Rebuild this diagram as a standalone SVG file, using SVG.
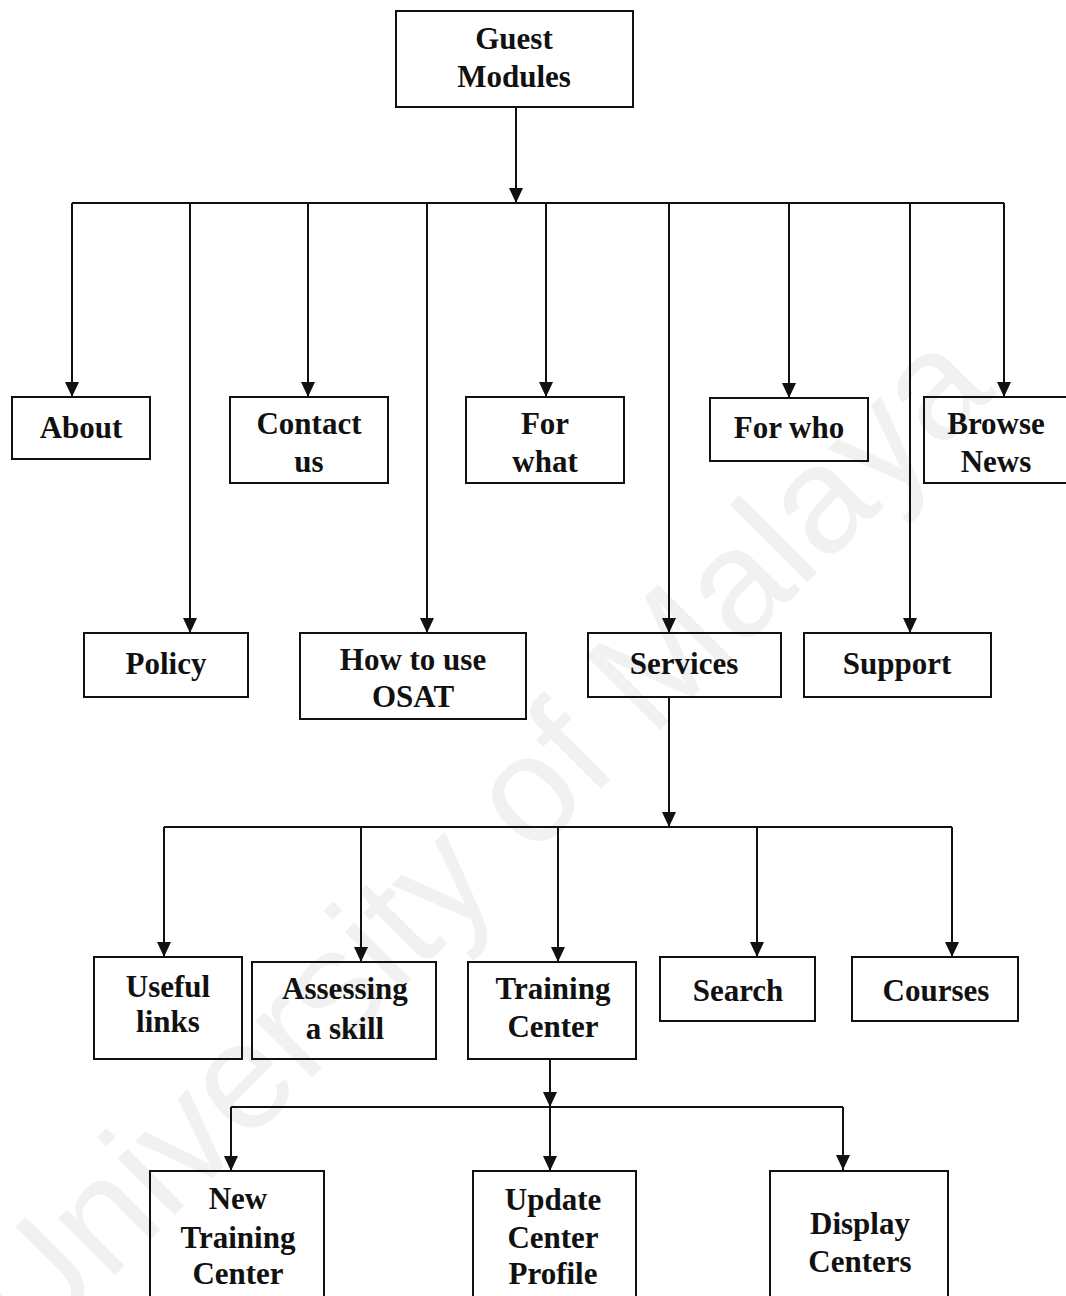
<svg xmlns="http://www.w3.org/2000/svg" width="1066" height="1296" viewBox="0 0 1066 1296">
  <style>
    .box { fill: none; stroke: #111; stroke-width: 2; }
    .lbl { font-family: "Liberation Serif", "Times New Roman", serif; font-size: 31px; font-weight: bold; fill: #111; text-anchor: middle; }
    .wire { fill: none; stroke: #111; stroke-width: 2; }
    .arrow { fill: none; stroke: #111; stroke-width: 2; marker-end: url(#head); }
    .mark { font-family: "Liberation Sans", Arial, sans-serif; font-size: 152px; fill: #f1f1f1; }
  </style>
  <defs>
    <marker id="head" viewBox="0 -8 15 16" refX="15" refY="0" markerWidth="15" markerHeight="16" markerUnits="userSpaceOnUse" orient="auto">
      <path d="M0,-7 L15,0 L0,7 z" fill="#111"/>
    </marker>
  </defs>

  <rect width="1066" height="1296" fill="#fff"/>
  <!-- faint background lettering, drawn beneath the chart -->
  <text class="mark" transform="translate(30,1360) rotate(-45)">University of Malaya</text>

  <g id="connectors">
    <line class="arrow" x1="516" y1="107" x2="516" y2="203"/>
    <line class="wire" x1="72" y1="203" x2="1004" y2="203"/>
    <line class="arrow" x1="72" y1="203" x2="72" y2="397"/>
    <line class="arrow" x1="190" y1="203" x2="190" y2="633"/>
    <line class="arrow" x1="308" y1="203" x2="308" y2="397"/>
    <line class="arrow" x1="427" y1="203" x2="427" y2="633"/>
    <line class="arrow" x1="546" y1="203" x2="546" y2="397"/>
    <line class="arrow" x1="669" y1="203" x2="669" y2="633"/>
    <line class="arrow" x1="789" y1="203" x2="789" y2="398"/>
    <line class="arrow" x1="910" y1="203" x2="910" y2="633"/>
    <line class="arrow" x1="1004" y1="203" x2="1004" y2="397"/>

    <line class="arrow" x1="669" y1="697" x2="669" y2="827"/>
    <line class="wire" x1="164" y1="827" x2="952" y2="827"/>
    <line class="arrow" x1="164" y1="827" x2="164" y2="957"/>
    <line class="arrow" x1="361" y1="827" x2="361" y2="962"/>
    <line class="arrow" x1="558" y1="827" x2="558" y2="962"/>
    <line class="arrow" x1="757" y1="827" x2="757" y2="957"/>
    <line class="arrow" x1="952" y1="827" x2="952" y2="957"/>

    <line class="arrow" x1="550" y1="1059" x2="550" y2="1107"/>
    <line class="wire" x1="231" y1="1107" x2="843" y2="1107"/>
    <line class="arrow" x1="231" y1="1107" x2="231" y2="1171"/>
    <line class="arrow" x1="550" y1="1107" x2="550" y2="1171"/>
    <line class="arrow" x1="843" y1="1107" x2="843" y2="1170"/>
  </g>

  <g id="guest-modules">
    <rect class="box" x="396" y="11" width="237" height="96"/>
    <text class="lbl" x="514" y="49">Guest</text>
    <text class="lbl" x="514" y="87">Modules</text>
  </g>

  <g id="about">
    <rect class="box" x="12" y="397" width="138" height="62"/>
    <text class="lbl" x="81" y="438">About</text>
  </g>
  <g id="contact-us">
    <rect class="box" x="230" y="397" width="158" height="86"/>
    <text class="lbl" x="309" y="434">Contact</text>
    <text class="lbl" x="309" y="472">us</text>
  </g>
  <g id="for-what">
    <rect class="box" x="466" y="397" width="158" height="86"/>
    <text class="lbl" x="545" y="434">For</text>
    <text class="lbl" x="545" y="472">what</text>
  </g>
  <g id="for-who">
    <rect class="box" x="710" y="398" width="158" height="63"/>
    <text class="lbl" x="789" y="438">For who</text>
  </g>
  <g id="browse-news">
    <rect class="box" x="924" y="397" width="145" height="86"/>
    <text class="lbl" x="996" y="434">Browse</text>
    <text class="lbl" x="996" y="472">News</text>
  </g>

  <g id="policy">
    <rect class="box" x="84" y="633" width="164" height="64"/>
    <text class="lbl" x="166" y="674">Policy</text>
  </g>
  <g id="how-to-use">
    <rect class="box" x="300" y="633" width="226" height="86"/>
    <text class="lbl" x="413" y="670">How to use</text>
    <text class="lbl" x="413" y="707">OSAT</text>
  </g>
  <g id="services">
    <rect class="box" x="588" y="633" width="193" height="64"/>
    <text class="lbl" x="684" y="674">Services</text>
  </g>
  <g id="support">
    <rect class="box" x="804" y="633" width="187" height="64"/>
    <text class="lbl" x="897" y="674">Support</text>
  </g>

  <g id="useful-links">
    <rect class="box" x="94" y="957" width="148" height="102"/>
    <text class="lbl" x="168" y="997">Useful</text>
    <text class="lbl" x="168" y="1032">links</text>
  </g>
  <g id="assessing-skill">
    <rect class="box" x="252" y="962" width="184" height="97"/>
    <text class="lbl" x="345" y="999">Assessing</text>
    <text class="lbl" x="345" y="1039">a skill</text>
  </g>
  <g id="training-center">
    <rect class="box" x="468" y="962" width="168" height="97"/>
    <text class="lbl" x="553" y="999">Training</text>
    <text class="lbl" x="553" y="1037">Center</text>
  </g>
  <g id="search">
    <rect class="box" x="660" y="957" width="155" height="64"/>
    <text class="lbl" x="738" y="1001">Search</text>
  </g>
  <g id="courses">
    <rect class="box" x="852" y="957" width="166" height="64"/>
    <text class="lbl" x="936" y="1001">Courses</text>
  </g>

  <g id="new-training-center">
    <rect class="box" x="150" y="1171" width="174" height="140"/>
    <text class="lbl" x="238" y="1209">New</text>
    <text class="lbl" x="238" y="1248">Training</text>
    <text class="lbl" x="238" y="1284">Center</text>
  </g>
  <g id="update-center-profile">
    <rect class="box" x="473" y="1171" width="163" height="140"/>
    <text class="lbl" x="553" y="1210">Update</text>
    <text class="lbl" x="553" y="1248">Center</text>
    <text class="lbl" x="553" y="1284">Profile</text>
  </g>
  <g id="display-centers">
    <rect class="box" x="770" y="1171" width="178" height="140"/>
    <text class="lbl" x="860" y="1234">Display</text>
    <text class="lbl" x="860" y="1272">Centers</text>
  </g>
</svg>
